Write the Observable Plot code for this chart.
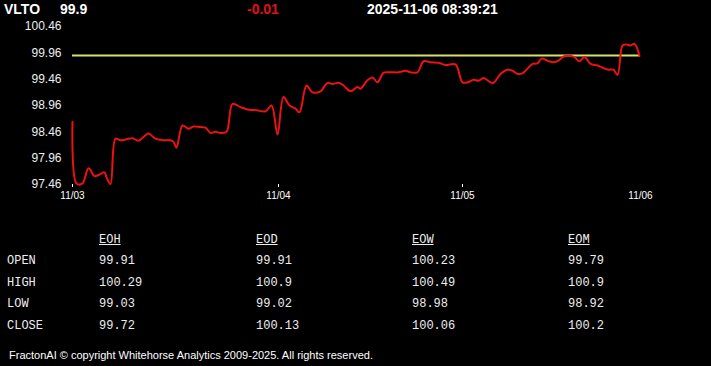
<!DOCTYPE html>
<html><head><meta charset="utf-8">
<script src="https://cdn.jsdelivr.net/npm/d3@7"></script>
<script src="https://cdn.jsdelivr.net/npm/@observablehq/plot@0.6"></script>
<style>
html,body{margin:0;padding:0;background:#000;width:711px;height:366px;overflow:hidden;position:relative;font-family:"Liberation Sans",Arial,sans-serif;color:#fff}
.hdr{position:absolute;top:0;font-weight:bold;font-size:14px;line-height:18px;white-space:nowrap}
#chart{position:absolute;left:0;top:18px}
.cell{position:absolute;font-family:"Liberation Mono","DejaVu Sans Mono",monospace;font-size:12px;line-height:14px;color:#eee;white-space:pre}
.colh{text-decoration:underline}
#footer{position:absolute;left:9px;top:348px;font-size:11px;line-height:14px;white-space:nowrap;letter-spacing:0px;color:#fff}
</style></head><body>
<div id="header"></div>
<div id="chart"></div>
<div id="table"></div>
<div id="footer"></div>
<script>
// Header
const symbol = "VLTO";
const lastPrice = "99.9";
const change = "-0.01";
const stamp = "2025-11-06 08:39:21";

// Price series (bar index, price)
const bars = [0,2,5,8,11,13,16,17,19,21.5,24,27,30,33,36,38,41.5,46,49,50.5,52,55,58,60.5,64,66.5,69,71.5,74,77,80,84,88,92,96.5,99.5,102.5,105.5,108.5,111.5,113.5,117,120,124,127.5,130,133,135.5,139,142.5,144,147.5,150,152.5,155.5,159,163,166.5,169,172.5,175.5,179,183,186.5,191.5,195,197.5,200.5,203,205.5,209,210.5,214,217.5,220,222.5,225,227.5,230,232.5,234.5,237.5,240.5,243,245.5,249,251,253.5,256,259,262.5,265.5,268,270.5,272.5,275,276.5,279,281,283.5];
const prices = [98.65,97.48,97.48,97.77,97.62,97.64,97.69,97.60,97.47,98.33,98.30,98.32,98.34,98.29,98.38,98.43,98.33,98.30,98.30,98.27,98.16,98.58,98.52,98.56,98.55,98.54,98.44,98.46,98.44,98.46,98.99,98.93,98.88,98.87,98.85,98.96,98.41,99.12,98.96,98.90,98.83,99.34,99.21,99.23,99.39,99.37,99.39,99.34,99.23,99.31,99.28,99.44,99.49,99.40,99.58,99.59,99.59,99.62,99.59,99.59,99.80,99.78,99.77,99.73,99.74,99.40,99.40,99.45,99.43,99.48,99.40,99.39,99.56,99.64,99.62,99.56,99.57,99.66,99.75,99.76,99.85,99.81,99.78,99.81,99.89,99.90,99.88,99.80,99.88,99.75,99.72,99.67,99.64,99.64,99.54,100.10,100.12,100.10,100.13,99.90];
const refLevel = 99.91;

// Axes
const yTicks = [97.46,97.96,98.46,98.96,99.46,99.96,100.46];
const dayTicks = [0,103,195,284];
const dayLabels = ["11/03","11/04","11/05","11/06"];

// Table
const colNames = ["EOH","EOD","EOW","EOM"];
const rowNames = ["OPEN","HIGH","LOW","CLOSE"];
const eoh = ["99.91","100.29","99.03","99.72"];
const eod = ["99.91","100.9","99.02","100.13"];
const eow = ["100.23","100.49","98.98","100.06"];
const eom = ["99.79","100.9","98.92","100.2"];
const footerText = "FractonAI \u00a9 copyright Whitehorse Analytics 2009-2025. All rights reserved.";

// header
const hdr = document.getElementById("header");
[[symbol,4,"#fff"],[lastPrice,60,"#fff"],[change,247,"#e31212"],[stamp,367,"#fff"]].forEach(([t,x,c])=>{
  const d=document.createElement("div");d.className="hdr";d.style.left=x+"px";d.style.color=c;d.textContent=t;hdr.appendChild(d);
});

// chart
const data = bars.map((b,i)=>({bar:b, price:prices[i]}));
const labelMap = new Map(dayTicks.map((d,i)=>[d,dayLabels[i]]));
const chart = Plot.plot({
  width:711, height:190,
  marginTop:8, marginBottom:24, marginLeft:72, marginRight:71,
  style:{background:"#000",color:"#fff",fontFamily:"'Liberation Sans', Arial, sans-serif",fontSize:"12px"},
  x:{domain:[0,284], label:null},
  y:{domain:[97.46,100.46], label:null},
  marks:[
    Plot.axisY(yTicks,{tickSize:0,tickPadding:11,tickFormat:d=>d.toFixed(2),fontSize:12,fill:"#eee",label:null}),
    Plot.axisX(dayTicks.slice(0,3),{tickSize:3,tickPadding:4,tickFormat:d=>labelMap.get(d),fontSize:10,stroke:"#fff",label:null}),
    Plot.axisX(dayTicks.slice(3),{tickSize:0,tickPadding:7,tickFormat:d=>labelMap.get(d),fontSize:10,label:null}),
    Plot.ruleY([refLevel],{stroke:"#d8e26a",strokeWidth:2}),
    Plot.line(data,{x:"bar",y:"price",stroke:"#ee1111",strokeWidth:2,curve:"catmull-rom"})
  ]
});
document.getElementById("chart").appendChild(chart);

// table
const tbl = document.getElementById("table");
const colX = [99,256,412,568];
const colVals = [eoh,eod,eow,eom];
const rowY = [261,282.5,304,326];
function cell(t,x,yc,cls){const d=document.createElement("div");d.className="cell"+(cls?" "+cls:"");d.style.left=x+"px";d.style.top=(yc-7)+"px";d.textContent=t;tbl.appendChild(d);}
colNames.forEach((c,j)=>cell(c,colX[j],239.5,"colh"));
rowNames.forEach((r,i)=>{
  cell(r,7,rowY[i]);
  colVals.forEach((vals,j)=>cell(vals[i],colX[j],rowY[i]));
});
document.getElementById("footer").textContent = footerText;
</script>
</body></html>
